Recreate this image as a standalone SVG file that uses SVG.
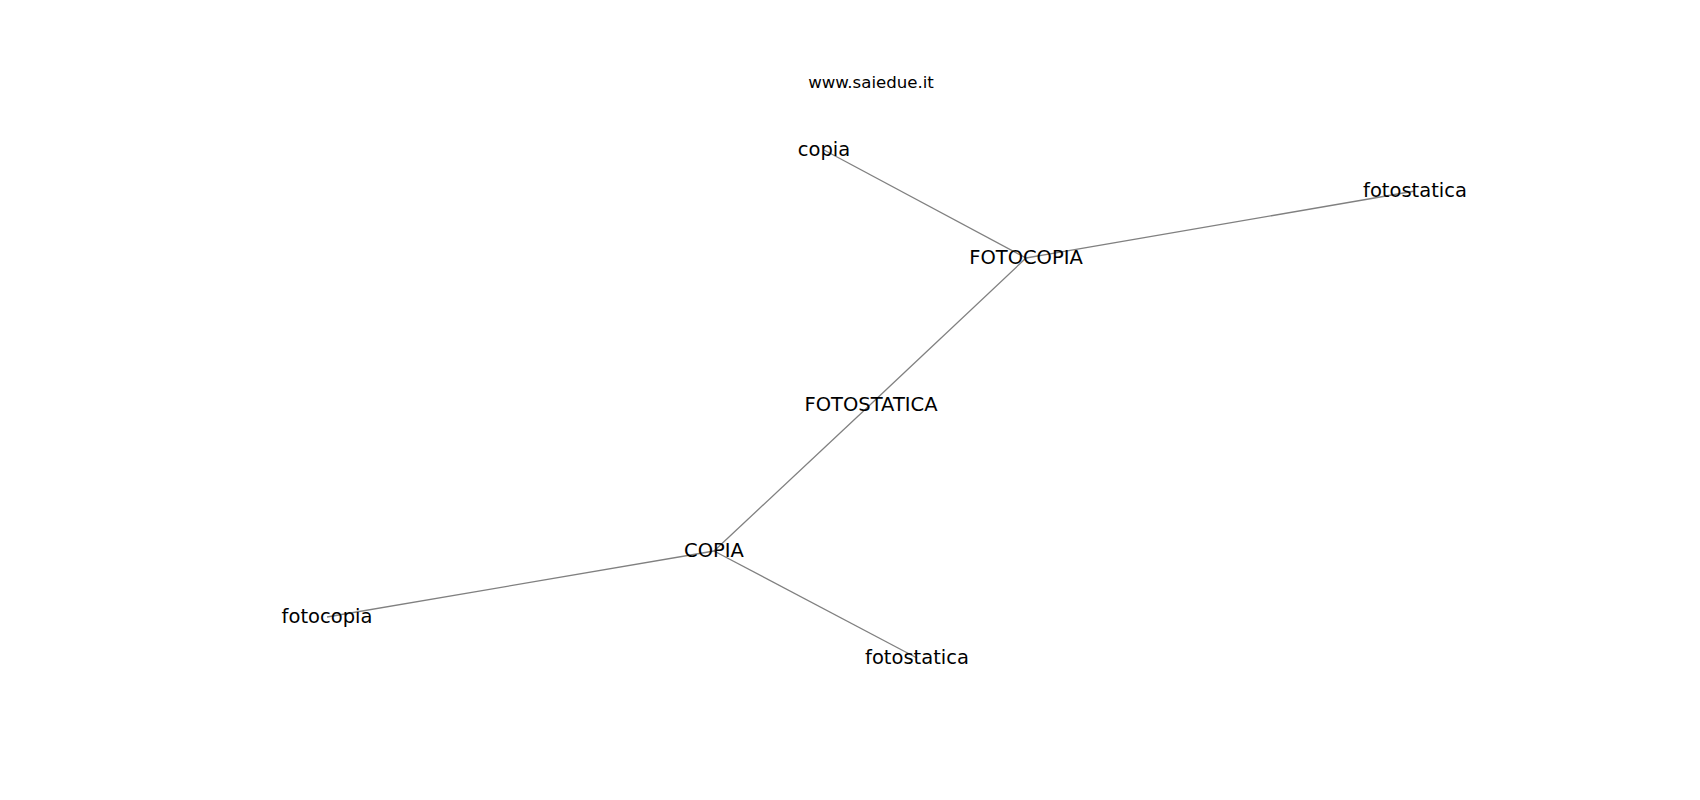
<svg xmlns="http://www.w3.org/2000/svg" width="1700" height="800" viewBox="0 0 1700 800">
<style>
.edge{stroke:#808080;stroke-width:1.3;fill:none}
.lbl{font-family:"DejaVu Sans",sans-serif;font-size:19.5px;fill:#000;text-anchor:middle}
.title{font-family:"DejaVu Sans",sans-serif;font-size:16.6px;fill:#000;text-anchor:middle}
</style>
<rect width="1700" height="800" fill="#fff"/>
<text class="title" x="871" y="88">www.saiedue.it</text>
<g id="edges">
<line class="edge" x1="824" y1="150" x2="1026" y2="258"/>
<line class="edge" x1="1026" y1="258" x2="1415" y2="191"/>
<line class="edge" x1="1026" y1="258" x2="871" y2="404"/>
<line class="edge" x1="871" y1="404" x2="714" y2="551"/>
<line class="edge" x1="714" y1="551" x2="327" y2="617"/>
<line class="edge" x1="714" y1="551" x2="917" y2="658"/>
</g>
<g id="node-copia"><text class="lbl" x="824" y="155.5">copia</text></g>
<g id="node-FOTOCOPIA"><text class="lbl" x="1026" y="263.5">FOTOCOPIA</text></g>
<g id="node-fotostatica-1"><text class="lbl" x="1415" y="196.5">fotostatica</text></g>
<g id="node-FOTOSTATICA"><text class="lbl" x="871" y="410.5">FOTOSTATICA</text></g>
<g id="node-COPIA"><text class="lbl" x="714" y="556.5">COPIA</text></g>
<g id="node-fotocopia"><text class="lbl" x="327" y="622.5">fotocopia</text></g>
<g id="node-fotostatica-2"><text class="lbl" x="917" y="663.5">fotostatica</text></g>
</svg>
